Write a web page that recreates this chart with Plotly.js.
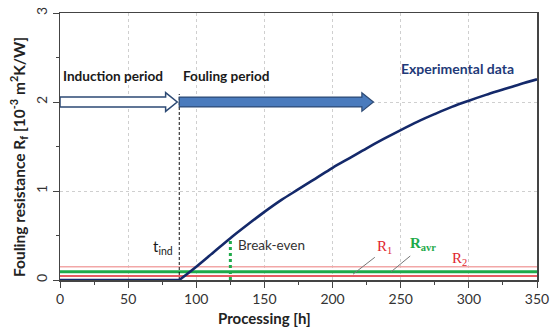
<!DOCTYPE html>
<html>
<head>
<meta charset="utf-8">
<script src="https://cdn.plot.ly/plotly-3.0.1.min.js"></script>
<style>html,body{margin:0;padding:0;background:#fff}#chart{width:552px;height:332px}</style>
</head>
<body>
<div id="chart"></div>
<script>
// Experimental fouling curve (processing time [h] vs fouling resistance [1e-3 m2K/W])
const timeH = [0, 87.5, 100, 112.5, 125, 137.5, 150, 162.5, 175, 187.5, 200, 212.5, 225, 237.5, 250, 262.5, 275, 287.5, 300, 312.5, 325, 337.5, 350];
const foulingRf = [0, 0, 0.15, 0.31, 0.47, 0.62, 0.765, 0.90, 1.02, 1.14, 1.26, 1.37, 1.48, 1.585, 1.685, 1.78, 1.865, 1.945, 2.015, 2.08, 2.14, 2.20, 2.255];
// Reference resistances
const R1 = 0.045;
const Ravr = 0.093;
const R2 = 0.15;
// Characteristic times
const tInd = 87.5;
const tBreakEven = 125;
const breakEvenRf = 0.47;
const xRange = [0, 350];
const yRange = [0, 3];
const xTicks = [0, 50, 100, 150, 200, 250, 300, 350];
const yTicks = [0, 1, 2, 3];
// Period arrows (start, end in hours) at level y = 2
const arrowLevel = 2;
const inductionArrow = [0, tInd - 1.5];
const foulingArrow = [tInd, 230];

const font = "Lato, 'Open Sans', sans-serif";
const serif = "'Liberation Serif', 'DejaVu Serif', serif";

function arrowPath(x0, x1, yc) {
  const bh = 0.055, hh = 0.105, hl = 8.5;
  const xh = x1 - hl;
  return `M ${x0} ${yc - bh} L ${xh} ${yc - bh} L ${xh} ${yc - hh} L ${x1} ${yc} L ${xh} ${yc + hh} L ${xh} ${yc + bh} L ${x0} ${yc + bh} Z`;
}

const iInd = timeH.indexOf(tInd);
const traces = [
  {x: xRange, y: [R2, R2], mode: 'lines', line: {color: '#f2a7a7', width: 1.5}, hoverinfo: 'skip'},
  {x: xRange, y: [Ravr, Ravr], mode: 'lines', line: {color: '#1faa4a', width: 3}, hoverinfo: 'skip'},
  {x: xRange, y: [R1, R1], mode: 'lines', line: {color: '#e0262e', width: 1.5}, hoverinfo: 'skip'},
  {x: [tBreakEven, tBreakEven], y: [0, breakEvenRf], mode: 'lines', line: {color: '#1faa4a', width: 3, dash: 'dot'}, hoverinfo: 'skip'},
  {x: [tInd, tInd], y: [0, arrowLevel + 0.09], mode: 'lines', line: {color: '#111', width: 1, dash: '3px,2px'}, hoverinfo: 'skip'},
  // induction period (flat part) and fouling part of the same measured curve
  {x: timeH.slice(0, iInd + 1), y: foulingRf.slice(0, iInd + 1), mode: 'lines', line: {color: '#14296a', width: 2.6}, hoverinfo: 'skip'},
  {x: timeH.slice(iInd), y: foulingRf.slice(iInd), mode: 'lines', line: {color: '#14296a', width: 2.6, shape: 'spline', smoothing: 1}, hoverinfo: 'skip'}
];

const layout = {
  width: 552, height: 332,
  margin: {l: 60, r: 15, t: 13, b: 52},
  paper_bgcolor: '#fff', plot_bgcolor: '#fff',
  showlegend: false,
  font: {family: font, color: '#333', size: 14},
  xaxis: {
    range: xRange, tickvals: xTicks, ticks: 'outside', ticklen: 6, tickcolor: '#444',
    showline: true, linecolor: '#444', linewidth: 1.5, mirror: true,
    showgrid: true, gridcolor: '#cfcfcf', griddash: 'dot', gridwidth: 1,
    zeroline: false,
    minor: {dtick: 25, tick0: 0, ticks: 'outside', ticklen: 3, tickcolor: '#444', showgrid: false},
    tickfont: {size: 14, color: '#333'}
  },
  yaxis: {
    range: yRange, tickvals: yTicks, ticks: 'outside', ticklen: 6, tickcolor: '#444',
    tickangle: -90,
    showline: true, linecolor: '#444', linewidth: 1.5, mirror: true,
    showgrid: true, gridcolor: '#cfcfcf', griddash: 'dot', gridwidth: 1,
    zeroline: false,
    minor: {dtick: 0.5, tick0: 0, ticks: 'outside', ticklen: 3, tickcolor: '#444', showgrid: false},
    tickfont: {size: 14, color: '#333'}
  },
  shapes: [
    {type: 'path', xref: 'x', yref: 'y', path: arrowPath(inductionArrow[0], inductionArrow[1], arrowLevel), fillcolor: '#ffffff', line: {color: '#2d4a74', width: 1.5}},
    {type: 'path', xref: 'x', yref: 'y', path: arrowPath(foulingArrow[0], foulingArrow[1], arrowLevel), fillcolor: '#4a7bbd', line: {color: '#2d4a74', width: 1.2}},
    {type: 'line', xref: 'x', yref: 'y', x0: 231, y0: 0.255, x1: 215, y1: R1 + 0.02, line: {color: '#777', width: 1}},
    {type: 'line', xref: 'x', yref: 'y', x0: 257, y0: 0.27, x1: 243, y1: Ravr, line: {color: '#777', width: 1}}
  ],
  annotations: [
    {x: 264, y: 318, xref: 'paper', yref: 'paper', xanchor: 'center', yanchor: 'middle', text: '<b>Processing [h]</b>', showarrow: false, font: {size: 15, color: '#222'}},
    {x: 18, y: 157, xref: 'paper', yref: 'paper', xanchor: 'center', yanchor: 'middle', text: '<b>Fouling resistance R<sub>f</sub> [10<sup>-3</sup> m<sup>2</sup>K/W]</b>', textangle: -90, showarrow: false, font: {size: 15.5, color: '#222'}},
    {x: 1, y: 2.29, xref: 'x', yref: 'y', text: '<b>Induction period</b>', showarrow: false, xanchor: 'left', font: {size: 13.6, color: '#1a1a1a'}},
    {x: tInd + 1, y: 2.29, xref: 'x', yref: 'y', text: '<b>Fouling period</b>', showarrow: false, xanchor: 'left', font: {size: 13.6, color: '#1a1a1a'}},
    {x: 248.5, y: 2.38, xref: 'x', yref: 'y', text: '<b>Experimental data</b>', showarrow: false, xanchor: 'left', font: {size: 14, color: '#1f3a78'}},
    {x: tInd - 3, y: 0.37, xref: 'x', yref: 'y', text: 't<sub>ind</sub>', showarrow: false, xanchor: 'right', font: {size: 15, color: '#1a1a1a'}},
    {x: tBreakEven + 4, y: 0.39, xref: 'x', yref: 'y', text: 'Break-even', showarrow: false, xanchor: 'left', font: {size: 13.5, color: '#333'}},
    {x: 238, y: 0.37, xref: 'x', yref: 'y', text: 'R<sub>1</sub>', showarrow: false, font: {family: serif, size: 15, color: '#e0262e'}},
    {x: 266, y: 0.40, xref: 'x', yref: 'y', text: '<b>R<sub>avr</sub></b>', showarrow: false, font: {family: serif, size: 15, color: '#1faa4a'}},
    {x: 293, y: 0.24, xref: 'x', yref: 'y', text: 'R<sub>2</sub>', showarrow: false, font: {family: serif, size: 15, color: '#e0262e'}}
  ]
};
// paper-pixel positions for the axis-title annotations
layout.annotations.slice(0, 2).forEach(a => {
  const pw = layout.width - layout.margin.l - layout.margin.r;
  const ph = layout.height - layout.margin.t - layout.margin.b;
  a.x = (a.x - layout.margin.l) / pw;
  a.y = (layout.height - layout.margin.b - a.y) / ph;
});

Plotly.newPlot('chart', traces, layout, {staticPlot: true, displayModeBar: false});
</script>
</body>
</html>
